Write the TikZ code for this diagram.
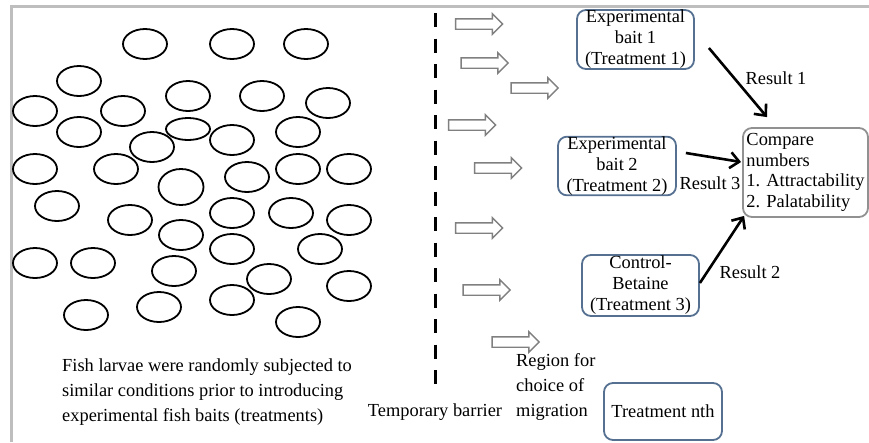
\documentclass[tikz,border=0pt]{standalone}
\usepackage{fontspec}
\setmainfont{Liberation Serif}
\usetikzlibrary{shapes.arrows,arrows.meta,calc}
\definecolor{framec}{RGB}{190,190,190}
\definecolor{baitc}{RGB}{85,112,145}
\definecolor{cmpc}{RGB}{145,145,145}
\definecolor{flowc}{RGB}{128,128,128}
\begin{document}
\begin{tikzpicture}[x=1pt,y=-1pt,
  txt/.style={font=\fontsize{18.4}{21}\selectfont, inner sep=0pt, align=center},
  bait/.style={draw=baitc, line width=1.8pt, rounded corners=9pt, txt},
  cmpbox/.style={draw=cmpc, line width=1.8pt, rounded corners=9pt, txt, align=left, font=\fontsize{18.4}{20.5}\selectfont},
  flow/.style={single arrow, draw=flowc, fill=white, line width=1.4pt, inner sep=4.5pt, single arrow head extend=5pt, minimum height=47pt},
  res/.style={line width=2.6pt, -{Straight Barb[length=9pt,width=16pt]}},
  fish/.style={line width=1.8pt},
  lbl/.style={txt},
  para/.style={txt, align=left, font=\fontsize{18.4}{25}\selectfont},
  barrier/.style={line width=3pt, dash pattern=on 14pt off 11.5pt}
]
\useasboundingbox (0,0) rectangle (869,442);
% frame
\draw[framec, line width=3pt] (11,442) -- (11,6) -- (869,6);
% fish larvae
\foreach \px/\py in {145/44,232/44,306/44,79/81,188/96,262/96,328/103,35/111,123/111,
  79/132,152/147,232/140,298/132,35/169,116/169,247/177,298/169,349/169,57/206,
  130/220,232/213,291/213,349/220,181/235,232/249,320/249,35/263,93/263,174/271,
  269/279,349/286,86/315,159/307,232/300,298/322}
  \draw[fish] (\px,\py) ellipse [x radius=22pt, y radius=15pt];
\draw[fish] (188,129) ellipse [x radius=22pt, y radius=11pt];
\draw[fish] (181,187) ellipse [x radius=22.5pt, y radius=18pt];
% barrier
\coordinate (bt) at (435,13);
\coordinate (bb) at (435,385);
\draw[barrier] (bt) -- (bb);
% migration arrows
\node[flow] (a1) at (476.5,24) {};
\node[flow] (a2) at (482,63) {};
\node[flow] (a3) at (532,88) {};
\node[flow] (a4) at (469.5,125) {};
\node[flow] (a5) at (495.5,168) {};
\node[flow] (a6) at (476.5,228) {};
\node[flow] (a7) at (484,290) {};
\node[flow] (a8) at (513,342) {};
% boxes
\node[bait, minimum width=117pt, minimum height=59pt] (b1) at (635.5,39.5) {Experimental\\bait 1\\(Treatment 1)};
\node[bait, minimum width=118pt, minimum height=58pt] (b2) at (617,166) {Experimental\\bait 2\\(Treatment 2)};
\node[bait, minimum width=117pt, minimum height=61pt] (b3) at (640.5,285.5) {Control-\\Betaine\\(Treatment 3)};
\node[bait, minimum width=118pt, minimum height=57pt] (bn) at (663,411.5) {Treatment nth};
\node[cmpbox, minimum width=125pt, minimum height=89pt] (cmp) at (805.5,172.5) {Compare\\numbers\\1. Attractability\\2. Palatability};
% results
\draw[res] ($(b1.east)+(14,8.5)$) -- ($(cmp.north)+(-38.5,-10)$);
\draw[res] ($(b2.east)+(9,-13)$) -- ($(cmp.west)+(-1,-10.5)$);
\draw[res] ($(b3.east)+(0,-2.5)$) -- ($(cmp.south west)+(2,-2)$);
\node[lbl] (l1) at (776,78) {Result 1};
\node[lbl] (l3) at (710,183) {Result 3};
\node[lbl] (l2) at (750,272) {Result 2};
% texts
\node[para, anchor=west] (fishtxt) at (62,392) {Fish larvae were randomly subjected to\\similar conditions prior to introducing\\experimental fish baits (treatments)};
\node[para, anchor=west] (region) at (516,387) {Region for\\choice of\\migration};
\node[lbl] (tb) at (435,412) {Temporary barrier};
\end{tikzpicture}
\end{document}
